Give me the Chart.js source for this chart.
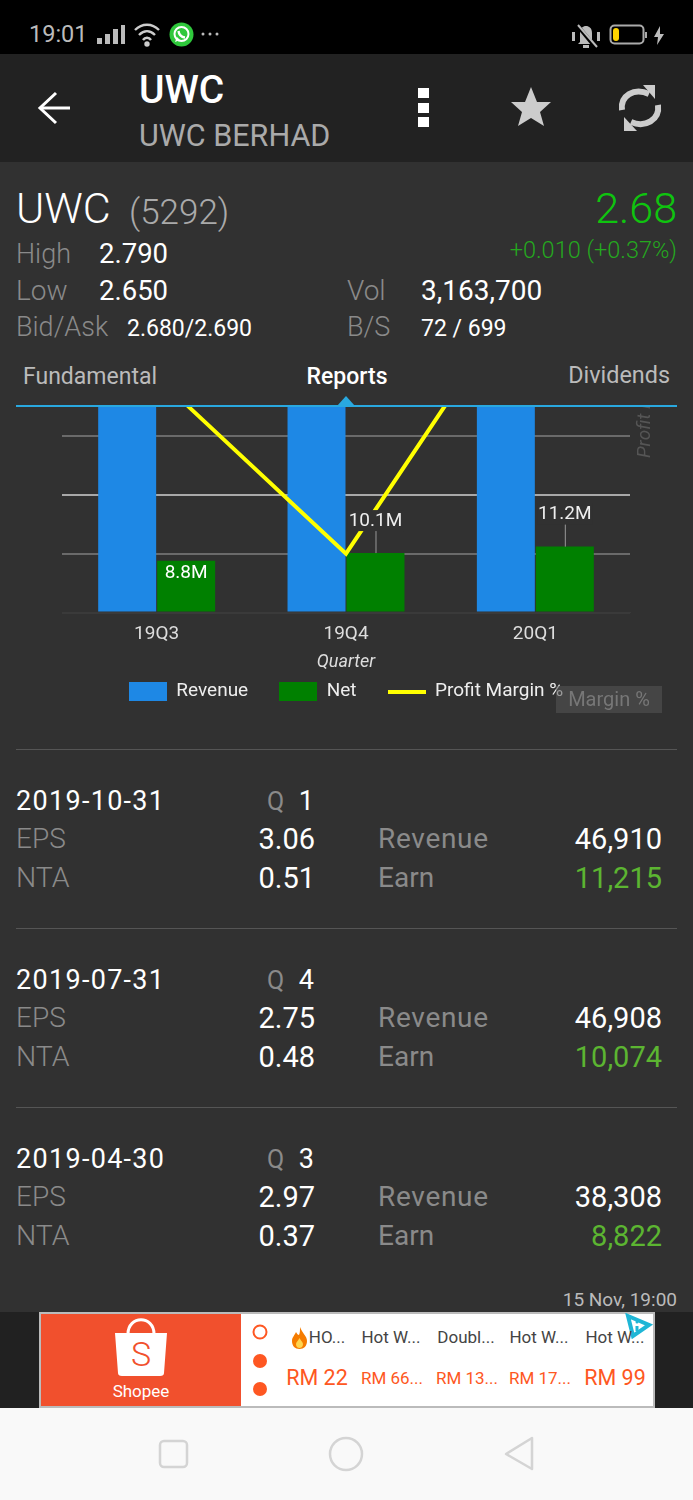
<!DOCTYPE html>
<html>
<head>
<meta charset="utf-8">
<title>UWC</title>
<script src="https://cdn.jsdelivr.net/npm/chart.js@4"></script>
<style>
  html, body { margin: 0; padding: 0; }
  body { width: 693px; height: 1500px; background: #313131; position: relative; overflow: hidden; font-family: Roboto, sans-serif; }
  .block { position: absolute; }
  .t { position: absolute; white-space: nowrap; line-height: 1; transform: translateY(-50%); }
  .t.r { transform: translate(-100%, -50%); }
  .t.c { transform: translate(-50%, -50%); }
  #chartWrap { position: absolute; left: 0; top: 407px; width: 693px; height: 330px; overflow: hidden; }
  #stockChart { position: absolute; left: 0; top: -207px; }
  svg { position: absolute; }
</style>
</head>
<body>
<div class="block" style="left:0;top:0;width:693px;height:54px;background:#000"></div>
<div class="block" style="left:0;top:54px;width:693px;height:108px;background:#222"></div>

<div id="chartWrap"><canvas id="stockChart" width="693" height="530"></canvas></div>
<div class="block" style="left:16px;top:405px;width:661px;height:2px;background:#29a8df"></div>
<div class="block" style="left:556px;top:686px;width:106px;height:27px;background:rgba(85,85,85,.55)"></div>

<div class="block" style="left:0;top:1312px;width:693px;height:96px;background:#212121"></div>
<div class="block" style="left:39px;top:1312px;width:616px;height:96px;background:#fff;box-sizing:border-box;border:2px solid #bbb"></div>
<div class="block" style="left:41px;top:1314px;width:200px;height:92px;background:#f1502d"></div>
<div class="block" style="left:0;top:1408px;width:693px;height:92px;background:#f9f9f9"></div>

<!-- status bar icons -->
<svg style="left:96px;top:24px" width="30" height="21"><rect x="1" y="14" width="5" height="6" fill="#bbb"/><rect x="9" y="10" width="5" height="10" fill="#bbb"/><rect x="17" y="5" width="5" height="15" fill="#bbb"/><rect x="25" y="1" width="4" height="19" fill="#bbb"/></svg>
<svg style="left:133px;top:22px" width="28" height="26" fill="none" stroke="#ccc" stroke-width="2.4"><path d="M2 8 C9 1 19 1 26 8"/><path d="M6 13 C11 8 17 8 22 13"/><path d="M10 18 C12 15 16 15 18 18"/><circle cx="14" cy="22" r="1.5" fill="#ccc"/></svg>
<svg style="left:169px;top:22px" width="25" height="25"><circle cx="12.5" cy="12.5" r="12" fill="#2fc83c"/><circle cx="12.5" cy="12" r="7" fill="none" stroke="#fff" stroke-width="2"/><path d="M6 20 L8 15 L11 18 Z" fill="#fff"/><path d="M9.5 9 C10 13 12 15 16 15.5" fill="none" stroke="#fff" stroke-width="2.4"/></svg>
<svg style="left:200px;top:30px" width="22" height="8" fill="#bbb"><circle cx="3" cy="4" r="1.5"/><circle cx="10" cy="4" r="1.5"/><circle cx="17" cy="4" r="1.5"/></svg>
<svg style="left:571px;top:22px" width="30" height="28" fill="#bbb"><path d="M9 20 L9 11 C9 6 12 4 15 4 C18 4 21 6 21 11 L21 20 L23 22 L7 22 Z"/><rect x="12" y="23" width="6" height="3"/><rect x="1" y="10" width="3" height="9"/><rect x="26" y="10" width="3" height="9"/><path d="M6 3 L25 26" stroke="#000" stroke-width="4"/><path d="M7 3 L26 25" stroke="#bbb" stroke-width="2"/></svg>
<svg style="left:609px;top:24px" width="40" height="22"><rect x="1.5" y="1.5" width="33" height="18" rx="4" fill="none" stroke="#aaa" stroke-width="2"/><rect x="4" y="4" width="6" height="13" rx="3" fill="#ffd400"/><rect x="36" y="8" width="2" height="6" fill="#aaa"/></svg>
<svg style="left:653px;top:26px" width="12" height="20" fill="#bbb"><path d="M7 0 L1 11 L5 11 L4 19 L11 8 L7 8 Z"/></svg>

<!-- app bar icons -->
<svg style="left:37px;top:90px" width="36" height="36" fill="none" stroke="#fff" stroke-width="3"><path d="M3 18 L33 18"/><path d="M19 3 L3 18 L19 33"/></svg>
<svg style="left:418px;top:88px" width="12" height="40" fill="#fff"><rect width="11" height="10"/><rect y="15" width="11" height="10"/><rect y="29" width="11" height="10"/></svg>
<svg style="left:510px;top:86px" width="42" height="42" fill="#ccc"><path d="M21 1 L27 16 L41 16 L30 26 L34 40 L21 32 L8 40 L12 26 L1 16 L15 16 Z"/></svg>
<svg style="left:617px;top:84px" width="46" height="48" fill="none" stroke="#ccc" stroke-width="6"><path d="M5 26 C3 12 17 3 32 10"/><path d="M41 21 C43 36 28 44 14 38"/><path d="M26 1 L38 1 L38 15 Z" fill="#ccc" stroke="none"/><path d="M7 47 L7 33 L20 47 Z" fill="#ccc" stroke="none"/></svg>

<!-- tab marker -->
<svg style="left:337px;top:396px" width="18" height="10" fill="#29a8df"><path d="M0 10 L9 0 L18 10 Z"/></svg>

<!-- shopee bag and ad extras -->
<svg style="left:113px;top:1318px" width="56" height="58"><path d="M15 16 C15 -3 41 -3 41 16" fill="none" stroke="#fff" stroke-width="3"/><path d="M2 15 L54 15 L51 55 Q51 58 47 58 L9 58 Q5 58 5 55 Z" fill="#fff"/><text x="28" y="48" font-family="Roboto" font-size="34" font-weight="300" fill="#f1502d" text-anchor="middle">S</text></svg>
<svg style="left:250px;top:1322px" width="20" height="76"><circle cx="10" cy="10" r="6.5" fill="none" stroke="#fe5722" stroke-width="2"/><circle cx="10" cy="39" r="7" fill="#fe5722"/><circle cx="10" cy="67" r="7" fill="#fe5722"/></svg>
<svg style="left:291px;top:1327px" width="17" height="22"><path d="M9 0 C11 6 16 9 16 14 C16 19 13 22 8.5 22 C4 22 1 19 1 14 C1 10 4 8 5 5 C6 7 7 8 8 8 C9 6 9 3 9 0 Z" fill="#f57c00"/><path d="M8.5 11 C10 14 12 15 12 17 C12 20 10 21 8.5 21 C7 21 5 20 5 17 C5 15 7 14 8.5 11 Z" fill="#ffd54f"/></svg>
<svg style="left:624px;top:1313px" width="30" height="26" fill="none" stroke="#1fb6d6" stroke-width="4"><path d="M4 3 L25 12 L9 23 Z"/><circle cx="13" cy="9" r="1.5" fill="#1fb6d6" stroke="none"/><path d="M13 13 L13 18" stroke-width="3"/></svg>

<!-- nav bar -->
<svg style="left:155px;top:1432px" width="210" height="44" fill="none" stroke="#d4d4d4" stroke-width="2.5"><rect x="5" y="9" width="27" height="26" rx="4"/><ellipse cx="191" cy="22" rx="16" ry="16"/></svg>
<svg style="left:500px;top:1434px" width="40" height="40" fill="none" stroke="#d4d4d4" stroke-width="2.5" stroke-linejoin="round"><path d="M32 4 L32 35 L6 20 Z"/></svg>

<script>
const categories = ["19Q3", "19Q4", "20Q1"];
const revenueM = [38.3, 46.9, 46.9];
const netM = [8.8, 10.1, 11.2];
const marginPct = [23.0, 21.5, 23.9];
const netLabels = ["8.8M", "10.1M", "11.2M"];

// report rows
const reportDates = ["2019-10-31", "2019-07-31", "2019-04-30"];
const reportQuarters = ["1", "4", "3"];
const reportEps = ["3.06", "2.75", "2.97"];
const reportNta = ["0.51", "0.48", "0.37"];
const reportRevenue = ["46,910", "46,908", "38,308"];
const reportEarn = ["11,215", "10,074", "8,822"];

const WHITE = "#fff", DIM = "#8a8a8a", GREEN = "#5cb531";

// helper to drop absolutely positioned text, y is the vertical centre
function txt(x, y, str, size, color, opts) {
  opts = opts || {};
  const el = document.createElement("div");
  el.className = "t" + (opts.align ? " " + opts.align : "");
  el.textContent = str;
  el.style.left = x + "px";
  el.style.top = y + "px";
  el.style.fontSize = size + "px";
  el.style.color = color;
  el.style.fontWeight = opts.weight || 400;
  if (opts.spacing) el.style.letterSpacing = opts.spacing + "px";
  document.body.appendChild(el);
}

// status + app bar
txt(29, 35, "19:01", 23.5, "#bbb");
txt(139, 90, "UWC", 39, WHITE, { weight: 500 });
txt(139, 136, "UWC BERHAD", 30.5, "#aaa");

// quote block
txt(16, 208, "UWC", 43, WHITE, { weight: 300 });
txt(129, 212, "(5292)", 35, "#aaa", { weight: 300 });
txt(677, 208, "2.68", 43, "#0fc40f", { align: "r", weight: 300 });
txt(677, 251, "+0.010 (+0.37%)", 23.5, "#25a81f", { align: "r", weight: 300 });
txt(16, 254, "High", 27, DIM, { weight: 300 });
txt(99, 254, "2.790", 27.5, WHITE);
txt(16, 291, "Low", 28, DIM, { weight: 300 });
txt(99, 291, "2.650", 27.5, WHITE);
txt(16, 327, "Bid/Ask", 27, DIM, { weight: 300 });
txt(127, 328, "2.680/2.690", 23, WHITE);
txt(347, 291, "Vol", 28, DIM, { weight: 300 });
txt(421, 291, "3,163,700", 28, WHITE);
txt(347, 327, "B/S", 27, DIM, { weight: 300 });
txt(421, 328, "72 / 699", 23, WHITE);

// tabs
txt(23, 376, "Fundamental", 23, "#bbb");
txt(347, 376, "Reports", 23, WHITE, { align: "c", weight: 500 });
txt(670, 376, "Dividends", 23.4, "#bbb", { align: "r" });

txt(609, 699, "Margin %", 20, "#777", { align: "c" });

// report rows
const rowTops = [801, 980, 1159];
const sepTops = [749, 928, 1107];
sepTops.forEach(function (y) {
  const d = document.createElement("div");
  d.className = "block";
  d.style.cssText = "left:16px;width:661px;height:1px;background:#555;top:" + y + "px";
  document.body.appendChild(d);
});
reportDates.forEach(function (date, i) {
  const y = rowTops[i];
  txt(16, y, date, 27, WHITE, { spacing: 1.3 });
  txt(267, y, "Q", 25, DIM);
  txt(314, y, reportQuarters[i], 27, WHITE, { align: "r" });
  txt(16, y + 38, "EPS", 28, DIM, { weight: 300 });
  txt(315, y + 38, reportEps[i], 29, WHITE, { align: "r" });
  txt(378, y + 38, "Revenue", 28, DIM, { spacing: 0.7 });
  txt(662, y + 38, reportRevenue[i], 29, WHITE, { align: "r" });
  txt(16, y + 77, "NTA", 28.5, DIM, { weight: 300 });
  txt(315, y + 77, reportNta[i], 29, WHITE, { align: "r" });
  txt(378, y + 77, "Earn", 28, DIM);
  txt(662, y + 77, reportEarn[i], 29, GREEN, { align: "r" });
});
txt(677, 1299, "15 Nov, 19:00", 19, "#bbb", { align: "r" });

// ad strip
txt(141, 1391, "Shopee", 17, WHITE, { align: "c" });
const adTitles = ["HO...", "Hot W...", "Doubl...", "Hot W...", "Hot W..."];
const adPrices = ["RM 22", "RM 66...", "RM 13...", "RM 17...", "RM 99"];
const adTitleCentres = [327, 391, 466, 539, 615];
const adPriceCentres = [317, 392, 467, 540, 615];
const adSizes = [21.5, 17, 17, 17, 21.5];
adTitles.forEach(function (title, i) {
  txt(adTitleCentres[i], 1337, title, 17, "#444", { align: "c" });
  txt(adPriceCentres[i], 1378, adPrices[i], adSizes[i], "#fe5722", { align: "c" });
});

// little canvases used as legend swatches
function swatch(color, h) {
  const c = document.createElement("canvas");
  c.width = 38;
  c.height = h;
  const g = c.getContext("2d");
  g.fillStyle = color;
  g.fillRect(0, 0, 38, h);
  return c;
}
const swatches = [swatch("#1e88e5", 19), swatch("#008000", 19), swatch("#ffff00", 4)];

// labels over the Net bars and the rotated axis caption
const netLabelPlugin = {
  id: "netLabelPlugin",
  afterDatasetsDraw(chart) {
    const ctx = chart.ctx;
    const bars = chart.getDatasetMeta(1).data;
    ctx.save();
    ctx.font = "19px Roboto";
    ctx.textAlign = "center";
    ctx.textBaseline = "middle";
    bars.forEach(function (bar, i) {
      if (i === 0) {
        ctx.fillStyle = "#fff";
        ctx.fillText(netLabels[i], bar.x, bar.y + 13);
        return;
      }
      const w = ctx.measureText(netLabels[i]).width;
      ctx.fillStyle = "#313131";
      ctx.fillRect(bar.x - w / 2 - 1, bar.y - 43, w + 2, 21);
      ctx.strokeStyle = "#999";
      ctx.lineWidth = 1;
      ctx.beginPath();
      ctx.moveTo(bar.x + 0.5, bar.y - 22);
      ctx.lineTo(bar.x + 0.5, bar.y);
      ctx.stroke();
      ctx.fillStyle = "#eee";
      ctx.fillText(netLabels[i], bar.x, bar.y - 32);
    });
    ctx.translate(645, 258);
    ctx.rotate(-Math.PI / 2);
    ctx.font = "italic 19px Roboto";
    ctx.textAlign = "left";
    ctx.fillStyle = "#555";
    ctx.fillText("Profit Margin %", 0, 0);
    ctx.restore();
  },
};

const ctx = document.getElementById("stockChart").getContext("2d");

new Chart(ctx, {
  type: "bar",
  data: {
    labels: categories,
    datasets: [
      {
        label: "Revenue",
        data: revenueM,
        backgroundColor: "#1e88e5",
        yAxisID: "y",
        order: 1,
        categoryPercentage: 0.623,
        barPercentage: 0.983,
      },
      {
        label: "Net",
        data: netM,
        backgroundColor: "#008000",
        yAxisID: "y",
        order: 1,
        categoryPercentage: 0.623,
        barPercentage: 0.983,
      },
      {
        type: "line",
        label: "Profit Margin %",
        data: marginPct,
        borderColor: "#ffff00",
        borderWidth: 4,
        pointRadius: 0,
        tension: 0,
        yAxisID: "y1",
        order: 0,
      },
    ],
  },
  options: {
    responsive: false,
    animation: false,
    layout: { padding: { top: 59, left: 62, right: 63, bottom: 19 } },
    plugins: {
      tooltip: { enabled: false },
      legend: {
        position: "bottom",
        labels: {
          usePointStyle: true,
          pointStyleWidth: 38,
          padding: 31,
          color: "#eee",
          font: { family: "Roboto", size: 19 },
          sort(a, b) {
            return a.datasetIndex - b.datasetIndex;
          },
          generateLabels(chart) {
            return Chart.defaults.plugins.legend.labels.generateLabels(chart).map(function (item) {
              item.pointStyle = swatches[item.datasetIndex];
              return item;
            });
          },
        },
      },
    },
    scales: {
      x: {
        grid: { display: false },
        border: { color: "#3a3a3a" },
        ticks: { color: "#ddd", font: { family: "Roboto", size: 19 }, padding: 2 },
        title: {
          display: true,
          text: "Quarter",
          color: "#ddd",
          font: { family: "Roboto", size: 18, style: "italic" },
          padding: { top: 4, bottom: -22 },
        },
      },
      y: {
        min: 0,
        max: 60,
        afterBuildTicks(axis) {
          axis.ticks = [0, 10, 20, 30, 40, 50, 60].map(function (v) { return { value: v }; });
        },
        ticks: { display: false },
        border: { display: false },
        grid: {
          drawTicks: false,
          lineWidth: 2,
          color(c) {
            if (c.tick.value === 0) return "#3a3a3a";
            return c.tick.value === 20 ? "#a8a8a8" : "#6a6a6a";
          },
        },
      },
      y1: {
        position: "right",
        display: false,
        min: 21,
        max: 24,
      },
    },
  },
  plugins: [netLabelPlugin],
});
</script>
</body>
</html>
